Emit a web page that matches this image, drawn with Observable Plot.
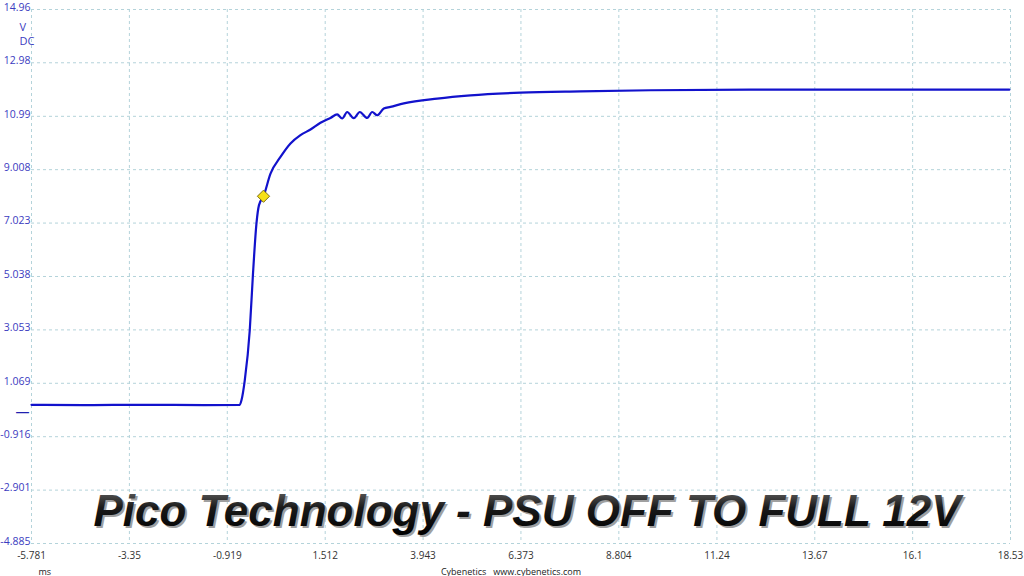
<!DOCTYPE html>
<html><head><meta charset="utf-8">
<script src="https://cdn.jsdelivr.net/npm/d3@7"></script>
<script src="https://cdn.jsdelivr.net/npm/@observablehq/plot@0.6"></script>
<style>body{margin:0;background:#fff;overflow:hidden}</style>
</head><body><div id="chart"></div>
<script>
const timeMs = [-5.781,-4.5,-3.0,-1.5,-0.609,-0.567,-0.485,-0.361,-0.286,-0.194,-0.132,-0.020,0.154,0.402,0.650,0.898,1.147,1.395,1.643,1.810,1.934,2.058,2.222,2.371,2.555,2.679,2.803,2.967,3.133,3.464,4.293,5.12,6.36,7.85,9.59,12.07,14.56,18.50];
const volts  = [0.27,0.26,0.27,0.26,0.27,0.44,1.18,3.04,5.01,7.02,7.69,8.02,8.86,9.48,9.98,10.29,10.50,10.75,10.93,11.06,10.91,11.15,10.92,11.15,10.93,11.15,11.03,11.28,11.34,11.47,11.65,11.77,11.87,11.92,11.96,11.98,11.98,11.98];
const markerTime = [-0.020];
const markerVolt = [8.02];
const xTicks = [-5.781,-3.35,-0.919,1.512,3.943,6.373,8.804,11.24,13.67,16.1,18.53];
const yTicks = [-4.885,-2.901,-0.916,1.069,3.053,5.038,7.023,9.008,10.99,12.98,14.96];
const titleText = "Pico Technology - PSU OFF TO FULL 12V";

const trace = timeMs.map((t,i)=>({t, v: volts[i]}));
const marker = markerTime.map((t,i)=>({t, v: markerVolt[i]}));
const blue = "#3b3bbf";
const gridColor = "#b4d3da";
const fmt = d => String(d);
const titleFont = "'Liberation Sans', Arial, sans-serif";

const chart = Plot.plot({
  width: 1024, height: 576,
  marginLeft: 31, marginRight: 14, marginTop: 9, marginBottom: 33,
  style: {fontFamily: "'Open Sans', 'DejaVu Sans', sans-serif", fontSize: "11px", background: "#fff"},
  x: {domain: [xTicks[0], xTicks[xTicks.length-1]], label: null},
  y: {domain: [yTicks[0], yTicks[yTicks.length-1]], label: null},
  marks: [
    Plot.gridX(xTicks, {stroke: gridColor, strokeOpacity: 1, strokeDasharray: "3,3"}),
    Plot.gridY(yTicks, {stroke: gridColor, strokeOpacity: 1, strokeDasharray: "3,3"}),
    Plot.axisY(yTicks, {tickSize: 0, tickPadding: 1, dy: -2, fill: blue, tickFormat: fmt, fontSize: 10.5, label: null}),
    Plot.axisX(xTicks, {tickSize: 0, tickPadding: 8, fill: "#333", tickFormat: fmt, fontSize: 10, label: null}),
    Plot.text(["V"], {frameAnchor: "top-left", dx: -12, dy: 14, fill: blue, fontSize: 11}),
    Plot.text(["DC"], {frameAnchor: "top-left", dx: -12, dy: 28, fill: blue, fontSize: 11}),
    Plot.text([0], {y: d => d, frameAnchor: "left", dx: -16, text: () => "—", fill: "#2020b0", fontSize: 14}),
    Plot.text([titleText], {frameAnchor: "bottom", dx: 8, dy: -16, lineAnchor: "bottom", fill: "#a0a0a0",
      fontSize: 44, fontWeight: "bold", fontStyle: "italic", fontFamily: titleFont}),
    Plot.text([titleText], {frameAnchor: "bottom", dx: 6, dy: -18, lineAnchor: "bottom", fill: "url(#titleGrad)",
      fontSize: 44, fontWeight: "bold", fontStyle: "italic", fontFamily: titleFont}),
    Plot.line(trace, {x: "t", y: "v", stroke: "#1212cc", strokeWidth: 2.2, curve: "monotone-x"}),
    Plot.dot(marker, {x: "t", y: "v", symbol: "diamond2", r: 5.5, fill: "#f6e016", stroke: "#7d6d10", strokeWidth: 1}),
    Plot.text(["ms"], {frameAnchor: "bottom-left", dx: 7, dy: 31, lineAnchor: "bottom", fill: "#222", fontSize: 9}),
    Plot.text(["Cybenetics   www.cybenetics.com"], {frameAnchor: "bottom", dx: -10, dy: 31, lineAnchor: "bottom", fill: "#222", fontSize: 9})
  ]
});
const svg = d3.select(chart);
const defs = svg.insert("defs", ":first-child");
const g = defs.append("linearGradient").attr("id", "titleGrad").attr("x1", 0).attr("y1", 0).attr("x2", 0).attr("y2", 1);
g.append("stop").attr("offset", "0%").attr("stop-color", "#707070");
g.append("stop").attr("offset", "45%").attr("stop-color", "#1a1a1a");
g.append("stop").attr("offset", "100%").attr("stop-color", "#000");
document.getElementById("chart").appendChild(chart);
</script>
</body></html>
